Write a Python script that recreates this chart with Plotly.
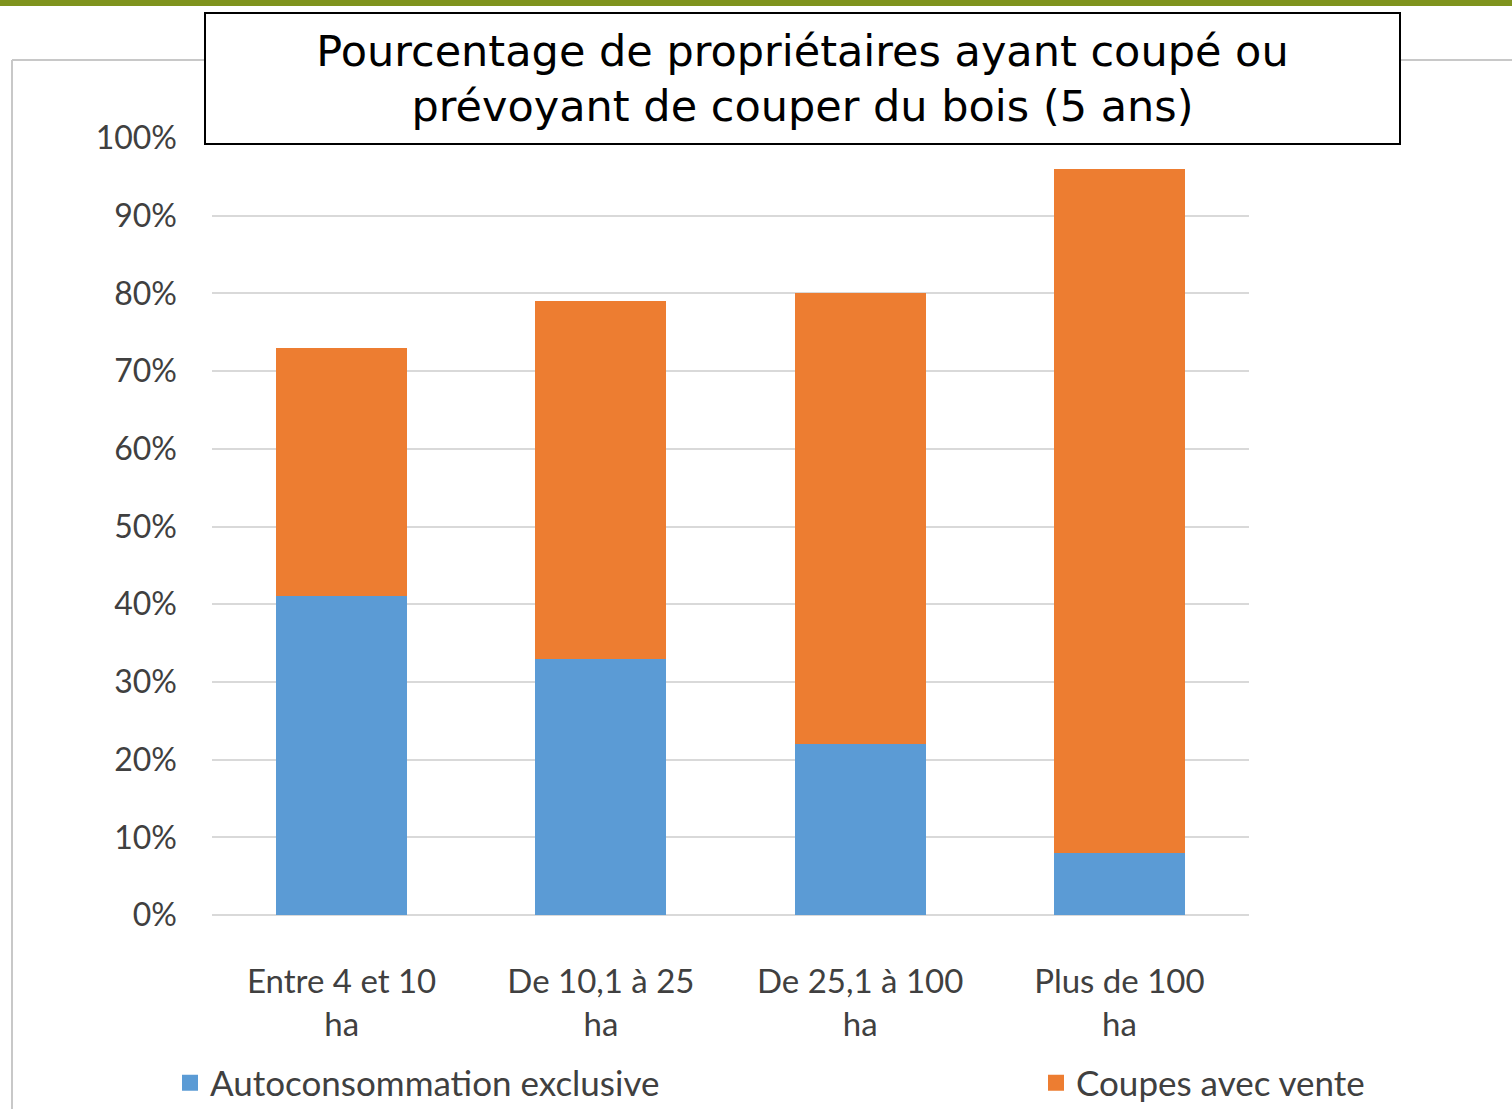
import plotly.graph_objects as go

categories = ["Entre 4 et 10<br>ha", "De 10,1 à 25<br>ha", "De 25,1 à 100<br>ha", "Plus de 100<br>ha"]
autoconso = [41, 33, 22, 8]
coupes_vente = [32, 46, 58, 88]
series_names = ["Autoconsommation exclusive", "Coupes avec vente"]
series_colors = ["#5b9bd5", "#ed7d31"]
tick_vals = [0, 10, 20, 30, 40, 50, 60, 70, 80, 90, 100]
tick_text = [f"{v}%" for v in tick_vals]
title_text = "Pourcentage de propriétaires ayant coupé ou<br>prévoyant de couper du bois (5 ans)"

W, H = 1512, 1109
L, R, T, B = 212, 263, 138, 194
pw, ph = W - L - R, H - T - B

def px(x):
    return (x - L) / pw

def py(y):
    return 1 - (y - T) / ph

axis_font = dict(family="Lato, Open Sans, sans-serif", size=32, color="#404040")
xtick_font = dict(family="Lato, Open Sans, sans-serif", size=33, color="#404040")
legend_font = dict(family="Lato, Open Sans, sans-serif", size=35, color="#404040")

fig = go.Figure()
for name, vals, col in zip(series_names, [autoconso, coupes_vente], series_colors):
    fig.add_trace(go.Bar(x=categories, y=vals, name=name, legendgroup=name, showlegend=False,
                         marker=dict(color=col, line=dict(width=0)), width=0.505))

# legend entries (square markers, no data)
for i, (name, col) in enumerate(zip(series_names, series_colors)):
    fig.add_trace(go.Scatter(x=[None], y=[None], mode="markers", name=name, legendgroup=name,
                             marker=dict(symbol="square", size=22, color=col),
                             legend="legend" if i == 0 else "legend2"))

legend_common = dict(orientation="h", yanchor="middle", xanchor="left", y=py(1083),
                     font=legend_font, bgcolor="rgba(0,0,0,0)", itemsizing="trace",
                     itemwidth=30)

fig.update_layout(
    width=W, height=H, barmode="stack",
    margin=dict(l=L, r=R, t=T, b=B, pad=0, autoexpand=False),
    paper_bgcolor="white", plot_bgcolor="white",
    font=axis_font,
    legend=dict(x=px(170), **legend_common),
    legend2=dict(x=px(1036), **legend_common),
    xaxis=dict(showgrid=False, showline=False, ticks="", tickfont=xtick_font,
               ticklabelstandoff=44, fixedrange=True),
    yaxis=dict(range=[0, 100], tickvals=tick_vals, ticktext=tick_text, tickfont=axis_font,
               showgrid=True, gridcolor="#d9d9d9", gridwidth=2, zeroline=True,
               zerolinecolor="#d9d9d9", zerolinewidth=2, showline=False, ticks="",
               ticklabelstandoff=34, fixedrange=True),
    shapes=[
        dict(type="rect", xref="paper", yref="paper", x0=px(0), x1=px(W), y0=py(-2), y1=py(6),
             fillcolor="#7f931e", line=dict(width=0), layer="above"),
        dict(type="line", xref="paper", yref="paper", x0=px(12), x1=px(W), y0=py(60), y1=py(60),
             line=dict(color="#c8c8c8", width=2), layer="below"),
        dict(type="line", xref="paper", yref="paper", x0=px(12), x1=px(12), y0=py(60), y1=py(H),
             line=dict(color="#c8c8c8", width=2), layer="below"),
    ],
    annotations=[
        dict(text=title_text, xref="paper", yref="paper", x=px(802.5), y=py(78.5),
             xanchor="center", yanchor="middle", showarrow=False,
             font=dict(family="DejaVu Sans", size=43, color="black"),
             bgcolor="white", bordercolor="black", borderwidth=2, borderpad=0,
             width=1193, height=129, align="center", valign="middle"),
    ],
)

fig.write_html("out.html", config={"displayModeBar": False},
               post_script="document.body.style.margin='0';document.body.style.overflow='hidden';")
